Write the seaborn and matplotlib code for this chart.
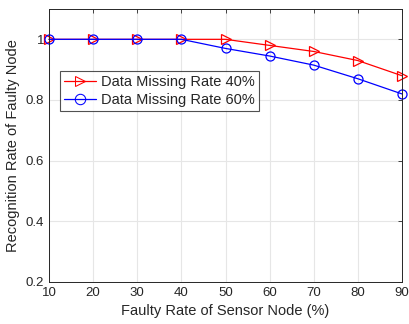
import matplotlib
matplotlib.use("Agg")
import matplotlib.pyplot as plt
import seaborn as sns
import pandas as pd

x_vals = [10, 20, 30, 40, 50, 60, 70, 80, 90]
rate40 = [1.0, 1.0, 1.0, 1.0, 1.0, 0.98, 0.96, 0.93, 0.88]
rate60 = [1.0, 1.0, 1.0, 1.0, 0.97, 0.945, 0.915, 0.87, 0.82]
labels = ["Data Missing Rate 40%", "Data Missing Rate 60%"]
yticks = [0.2, 0.4, 0.6, 0.8, 1.0]
yticklabels = ["0.2", "0.4", "0.6", "0.8", "1"]

sns.set_style("white")
plt.rcParams['font.family'] = ['Liberation Sans', 'DejaVu Sans']

df = pd.DataFrame({"x": x_vals * 2,
                   "y": rate40 + rate60,
                   "s": [labels[0]] * len(x_vals) + [labels[1]] * len(x_vals)})

fig = plt.figure(figsize=(4.09, 3.24), dpi=100)
ax = fig.add_axes([49 / 409, 1 - 282 / 324, (402 - 49) / 409, (282 - 9) / 324])

sns.lineplot(data=df, x="x", y="y", hue="s", style="s",
             palette=["#ff0000", "#0000ff"], markers={labels[0]: ">", labels[1]: "o"},
             dashes=False, markersize=6.5, markerfacecolor="none",
             linewidth=0.9, ax=ax, legend=True)
for line, c in zip(ax.lines, ["#ff0000", "#0000ff"]):
    line.set_markerfacecolor("none")
    line.set_markeredgecolor(c)
    line.set_markeredgewidth(0.9)
    line.set_clip_on(False)

ax.set_xlim(10, 90)
ax.set_ylim(0.2, 1.1)
ax.set_xticks(x_vals)
ax.set_yticks(yticks)
ax.set_yticklabels(yticklabels)
ax.grid(True, color="#e6e6e6", linewidth=0.8)
ax.tick_params(direction="in", length=3, width=0.6, labelsize=9.5, colors="#262626",
               top=True, right=True, labelcolor="#262626")
for sp in ax.spines.values():
    sp.set_color("#262626")
    sp.set_linewidth(0.7)
ax.set_xlabel("Faulty Rate of Sensor Node (%)", fontsize=10.5, color="#262626")
ax.set_ylabel("Recognition Rate of Faulty Node", fontsize=10.5, color="#262626")

h, l = ax.get_legend_handles_labels()
for hh, c in zip(h, ["#ff0000", "#0000ff"]):
    hh.set_markerfacecolor("none")
    hh.set_markeredgecolor(c)
    hh.set_markersize(7.5)
leg = ax.legend(h, l, loc="upper left", bbox_to_anchor=(11 / 353, 1 - 62 / 273),
                fontsize=10.5, frameon=True, fancybox=False, edgecolor="#262626",
                borderpad=0.3, labelspacing=0.25, handlelength=2.2, handletextpad=0.3,
                borderaxespad=0)
leg.get_frame().set_linewidth(0.8)

fig.savefig("out.png", dpi=100)
